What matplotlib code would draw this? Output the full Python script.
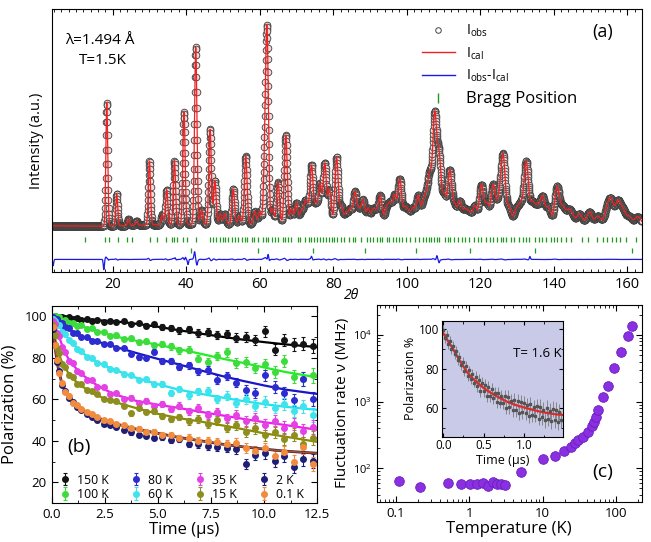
import numpy as np
import matplotlib
matplotlib.use("Agg")
import matplotlib.pyplot as plt
from matplotlib.lines import Line2D
from matplotlib.ticker import MultipleLocator, LogLocator, NullFormatter

plt.rcParams["font.family"] = ["Open Sans", "DejaVu Sans"]
plt.rcParams["mathtext.default"] = "regular"

# ---------------- panel (a): neutron diffraction ----------------
PEAK_POS = [18.4, 21.1, 24.3, 26.5, 30.0, 33.5, 34.7, 36.8, 39.4, 42.6, 44.2, 46.5,
            47.8, 49.3, 50.5, 52.8, 54.5, 56.2, 58.7, 60.0, 61.4, 62.0, 63.5, 65.0,
            67.1, 68.7, 70.0, 71.3, 72.3, 73.0, 74.1, 75.3, 76.4, 77.7, 79.0, 80.9,
            82.2, 83.5, 84.6, 85.9, 87.0, 88.1, 89.5, 90.8, 91.7, 92.8, 94.5, 95.5,
            96.7, 98.1, 99.5, 100.5, 101.7, 103.1, 104.5, 105.4, 106.3, 107.6, 108.8,
            110.2, 111.7, 113.0, 114.4, 115.8, 117.0, 118.5, 120.3, 121.8, 123.5, 125.0,
            126.2, 127.8, 129.8, 131.0, 132.5, 134.2, 135.5, 136.9, 138.5, 140.9, 142.5,
            144.0, 145.0, 147.0, 149.7, 152.0, 154.5, 155.6, 157.4, 158.8, 160.5, 162.8]
PEAK_HT = [60.0, 15.5, 3.0, 2.0, 31.0, 5.0, 17.0, 31.0, 54.5, 86.0, 7.0, 46.0,
           21.0, 5.0, 5.0, 17.0, 4.0, 33.0, 6.0, 6.0, 26.0, 88.0, 7.0, 20.0,
           43.0, 7.0, 10.0, 6.0, 9.0, 7.0, 28.0, 9.0, 19.0, 29.0, 16.0, 32.0,
           8.0, 5.0, 7.0, 15.0, 6.0, 11.0, 7.0, 6.0, 5.0, 13.0, 7.0, 9.0,
           13.0, 21.0, 7.0, 5.0, 7.0, 13.0, 9.0, 10.0, 21.0, 51.0, 31.0,
           13.0, 25.0, 8.0, 10.0, 6.0, 5.0, 8.0, 18.0, 9.0, 18.0, 10.0,
           32.0, 7.0, 6.0, 8.0, 29.0, 9.0, 7.0, 12.0, 7.0, 17.0, 7.0,
           5.0, 3.0, 4.0, 5.0, 3.0, 6.0, 10.0, 10.0, 6.0, 3.0, 3.0]
BG_POS = [3.5, 17.0, 30.0, 60.0, 100.0, 140.0, 164.0]
BG_VAL = [1.0, 0.8, 1.5, 2.0, 2.5, 3.0, 2.5]

DIFF_POS = [3.8, 17.6, 18.6, 37.0, 39.8, 40.5, 42.3, 42.9, 62.3, 74.1, 108.2, 108.8, 133.5]
DIFF_AMP = [-3.0, -5.0, 1.5, 1.2, 1.8, -2.5, 2.5, -1.5, 3.5, 1.5, 2.0, -1.5, 1.5]

BRAGG_MAIN = [12.5, 17.9, 19.0, 21.4, 24.0, 25.2, 30.2, 32.0, 34.5, 36.1, 36.8, 37.4,
              39.0, 40.1, 42.7, 46.5, 47.4, 48.1, 49.2, 49.9, 50.6, 51.5, 52.4, 53.3,
              54.0, 55.2, 56.0, 56.6, 57.8, 58.5, 59.6, 60.9, 61.6, 62.2, 63.4, 64.1,
              65.0, 66.2, 67.0, 67.8, 68.6, 70.3, 71.0, 72.2, 73.3, 74.0, 74.8, 75.5,
              76.4, 77.2, 77.9, 78.8, 79.6, 80.3, 81.0, 82.1, 83.0, 84.3, 85.4, 86.0,
              87.5, 89.2, 90.0, 90.8, 91.9, 92.7, 93.4, 94.5, 95.3, 96.2, 97.0, 97.8,
              98.6, 99.9, 101.0, 102.2, 103.4, 104.3, 105.2, 106.0, 106.6, 107.4, 108.1,
              108.8, 110.3, 111.1, 111.8, 112.8, 113.9, 115.0, 115.9, 117.0, 118.2, 119.4,
              120.3, 121.5, 122.6, 123.4, 124.5, 125.6, 126.3, 127.1, 128.4, 129.2, 130.5,
              131.7, 132.4, 133.3, 134.9, 136.0, 136.8, 138.0, 139.3, 140.1, 140.9, 142.0,
              143.3, 144.6, 147.7, 149.3, 151.7, 153.4, 154.4, 155.8, 156.9, 158.0, 159.6,
              162.4]
BRAGG_SECOND = [41.2, 59.4, 74.5, 88.6, 102.6, 117.3, 134.8, 161.2]

# ---------------- panel (b): muSR asymmetry ----------------
TEMPS = ["150 K", "100 K", "80 K", "60 K", "35 K", "15 K", "2 K", "0.1 K"]
PT_COLORS = ["#141414", "#3ddc3d", "#2c2cd0", "#3fe3ec", "#e442e4", "#8e8e20", "#1f1f78", "#f28b3e"]
LN_COLORS = ["#000000", "#22ee22", "#1717c8", "#1ee4f0", "#ee1eee", "#8b8b00", "#4a2038", "#e07a30"]

T_PTS = [0.05, 0.15, 0.25, 0.35, 0.5, 0.65, 0.8, 1.0, 1.2, 1.4, 1.65, 1.9, 2.15, 2.45,
         2.75, 3.05, 3.4, 3.75, 4.1, 4.45, 4.8, 5.2, 5.6, 6.0, 6.45, 6.9, 7.35, 7.8,
         8.25, 8.7, 9.15, 9.6, 10.05, 10.5, 10.95, 11.4, 11.85, 12.3]
ERR_PTS = [0.6, 0.6, 0.6, 0.6, 0.6, 0.6, 0.7, 0.7, 0.7, 0.7, 0.8, 0.8, 0.8, 0.9,
           0.9, 1.0, 1.0, 1.1, 1.1, 1.2, 1.3, 1.4, 1.5, 1.6, 1.7, 1.8, 1.9, 2.0,
           2.1, 2.2, 2.4, 2.5, 2.6, 2.8, 2.9, 3.0, 3.2, 3.4]
P_150 = [99.6, 100.3, 99.8, 99.5, 99.9, 99.2, 99.6, 98.8, 99.1, 98.4, 98.9, 98.0, 98.4, 97.5,
         97.9, 97.2, 97.6, 96.4, 96.8, 95.6, 96.1, 95.0, 94.4, 93.2, 93.9, 92.0, 92.6, 90.9,
         91.5, 89.8, 90.2, 88.6, 92.8, 84.0, 88.5, 86.5, 86.8, 85.8]
P_100 = [99.5, 100.1, 99.0, 99.6, 98.0, 98.4, 96.8, 96.9, 95.4, 95.9, 94.0, 94.3, 92.5, 92.6,
         90.7, 90.8, 89.0, 89.4, 87.5, 88.1, 86.0, 86.6, 85.5, 83.6, 84.0, 79.6, 78.2, 81.0,
         82.6, 77.5, 78.0, 75.2, 76.8, 73.2, 78.5, 71.0, 69.8, 71.5]
P_80 = [99.8, 98.5, 98.6, 97.0, 96.6, 94.8, 94.3, 92.2, 91.8, 90.1, 89.9, 88.2, 88.3, 86.5,
        86.6, 84.6, 84.8, 82.0, 80.2, 80.0, 83.0, 78.4, 78.6, 75.8, 76.4, 73.5, 74.0, 69.5,
        71.2, 68.0, 64.5, 62.9, 71.5, 66.0, 63.0, 59.7, 69.8, 60.0]
P_60 = [98.8, 97.9, 96.0, 95.7, 92.4, 91.5, 88.6, 87.3, 84.2, 83.3, 80.4, 79.9, 77.4, 76.9,
        74.6, 74.2, 72.0, 71.8, 69.4, 69.6, 67.2, 67.4, 63.0, 64.9, 61.9, 63.8, 64.2, 60.3,
        61.8, 58.4, 60.3, 57.0, 58.9, 56.0, 57.8, 54.3, 56.6, 52.6]
P_35 = [98.0, 96.2, 92.0, 90.6, 85.2, 82.9, 78.6, 77.4, 73.6, 72.9, 69.5, 69.1, 66.0, 65.8,
        62.6, 63.0, 60.2, 60.8, 58.2, 59.3, 57.0, 57.9, 55.5, 56.9, 54.2, 55.8, 52.6, 54.0,
        51.0, 52.5, 49.5, 51.0, 47.8, 49.7, 46.4, 48.2, 44.8, 46.8]
P_15 = [95.8, 90.8, 84.6, 82.2, 77.2, 75.6, 71.8, 70.6, 67.5, 67.2, 64.3, 63.8, 62.8, 60.1,
        59.9, 59.3, 56.8, 53.2, 55.9, 53.9, 54.2, 52.0, 50.4, 51.5, 49.3, 50.6, 47.9, 49.8,
        46.3, 47.5, 44.2, 46.0, 42.7, 44.0, 41.0, 43.0, 38.5, 41.2]
P_2 = [94.0, 86.4, 78.0, 73.8, 66.8, 64.2, 60.6, 58.9, 56.2, 55.0, 52.9, 51.3, 50.0, 48.2,
       47.4, 46.6, 45.1, 44.0, 42.8, 42.5, 41.5, 41.9, 40.2, 40.8, 38.6, 38.5, 37.4, 37.2,
       36.5, 35.8, 28.8, 33.2, 34.0, 30.2, 32.8, 27.5, 31.0, 30.2]
P_01 = [95.0, 86.0, 79.2, 72.6, 68.0, 63.5, 61.8, 58.4, 57.3, 55.2, 53.7, 52.8, 51.3, 50.1,
        49.5, 48.0, 47.5, 46.0, 45.8, 44.4, 44.3, 43.0, 42.6, 41.3, 41.4, 40.0, 40.0, 39.5,
        38.4, 38.9, 36.5, 35.0, 36.4, 32.5, 34.6, 30.0, 37.0, 28.6]
P_ALL = [P_150, P_100, P_80, P_60, P_35, P_15, P_2, P_01]

T_FIT = [0, 0.1, 0.2, 0.3, 0.45, 0.6, 0.8, 1.0, 1.25, 1.5, 2, 2.5, 3, 4, 5, 6, 7, 8, 9, 10, 11, 12.5]
F_150 = [100, 100, 99.9, 99.8, 99.7, 99.6, 99.4, 99.2, 99.0, 98.7, 98.3, 97.9, 97.6, 96.4,
         95.0, 93.3, 91.7, 90.2, 88.8, 87.6, 86.5, 85.2]
F_100 = [100, 99.8, 99.5, 99.2, 98.5, 97.9, 97.1, 96.4, 95.6, 94.9, 93.4, 91.9, 90.3, 88.2,
         86.3, 84.2, 82.0, 79.7, 77.6, 75.4, 73.2, 70.6]
F_80 = [100, 99.2, 98.5, 97.8, 96.6, 95.5, 94.0, 92.7, 91.2, 90.1, 88.3, 86.8, 85.3, 82.3,
        79.5, 76.8, 74.0, 71.3, 68.9, 66.7, 64.7, 62.6]
F_60 = [100, 98.6, 97.3, 96.1, 93.8, 91.7, 89.2, 86.9, 84.3, 82.0, 78.8, 76.2, 74.1, 70.3,
        67.3, 64.6, 62.7, 60.9, 59.2, 57.7, 56.4, 54.9]
F_35 = [100, 97.0, 94.2, 91.3, 87.3, 83.0, 79.4, 76.6, 73.8, 71.4, 67.7, 64.7, 62.3, 59.2,
        57.4, 55.8, 54.0, 52.3, 50.6, 49.0, 47.6, 45.3]
F_15 = [100, 93.0, 87.5, 83.0, 78.8, 75.8, 72.4, 70.0, 67.6, 65.8, 62.6, 60.3, 58.6, 55.7,
        53.0, 50.9, 49.3, 47.5, 45.6, 43.6, 42.0, 39.5]
F_2 = [100, 89.5, 82.0, 75.5, 68.8, 64.8, 61.3, 58.8, 56.6, 54.7, 51.8, 49.8, 48.2, 45.6,
       43.6, 41.6, 40.0, 38.4, 37.1, 36.0, 35.0, 34.0]
F_01 = F_2
F_ALL = [F_150, F_100, F_80, F_60, F_35, F_15, F_2, F_01]

# ---------------- panel (c): fluctuation rate ----------------
T_NU = [0.11, 0.21, 0.52, 0.76, 1.02, 1.26, 1.55, 1.81, 2.08, 2.36, 2.67, 3.06, 5.0, 10.0,
        14.6, 19.5, 24.1, 27.6, 30.6, 35.2, 41.9, 46.6, 50.6, 52.9, 57.3, 65.8, 77.0,
        94.8, 117.0, 144.0, 164.0]
NU = [65, 53, 61, 57.5, 57.5, 59, 61, 55, 63, 59, 57.5, 56, 89, 137,
      155, 184, 211, 243, 267, 293, 355, 432, 502, 583, 750, 1164, 1718,
      3160, 5620, 9760, 13650]

# inset: 1.6 K asymmetry
T_IN = [0.00, 0.02, 0.04, 0.06, 0.08, 0.10, 0.12, 0.14, 0.16, 0.18,
        0.20, 0.22, 0.24, 0.26, 0.28, 0.30, 0.32, 0.34, 0.36, 0.38,
        0.40, 0.42, 0.44, 0.46, 0.48, 0.50, 0.52, 0.54, 0.56, 0.58,
        0.60, 0.62, 0.64, 0.66, 0.68, 0.70, 0.72, 0.74, 0.76, 0.78,
        0.80, 0.82, 0.84, 0.86, 0.88, 0.90, 0.92, 0.94, 0.96, 0.98,
        1.00, 1.02, 1.04, 1.06, 1.08, 1.10, 1.12, 1.14, 1.16, 1.18,
        1.20, 1.22, 1.24, 1.26, 1.28, 1.30, 1.32, 1.34, 1.36, 1.38,
        1.40, 1.42, 1.44, 1.46]
P_IN = [99.5, 95.8, 97.0, 92.6, 94.1, 90.2, 91.8, 87.5, 88.9, 84.6,
        86.0, 81.8, 83.5, 79.0, 81.4, 76.3, 79.2, 74.8, 77.3, 73.1,
        75.9, 71.5, 74.2, 69.0, 73.1, 68.6, 71.9, 66.5, 70.8, 66.4,
        69.8, 65.2, 68.0, 63.1, 67.9, 63.0, 66.2, 62.6, 66.1, 60.4,
        65.6, 60.8, 63.9, 59.1, 64.5, 59.2, 63.9, 57.8, 63.4, 58.3,
        62.9, 57.7, 61.6, 56.1, 62.3, 56.8, 60.8, 56.4, 61.2, 54.9,
        60.8, 55.6, 59.4, 54.2, 60.1, 54.9, 58.8, 53.5, 59.6, 54.3,
        59.3, 53.2, 58.0, 54.0]
E_IN = [2.5] * 20 + [3.0] * 20 + [3.5] * 20 + [4.0] * 14
T_IN_FIT = [0, 0.05, 0.1, 0.15, 0.2, 0.25, 0.3, 0.35, 0.4, 0.5, 0.6, 0.7, 0.8, 0.9,
            1.0, 1.1, 1.2, 1.3, 1.4, 1.5]
F_IN = [98, 94.5, 91.5, 88, 84.3, 81.2, 78, 75.8, 73.8, 70.3, 67.6, 65.3, 63.2, 61.7,
        60.5, 59.4, 58.4, 57.6, 57.0, 56.6]

fig = plt.figure(figsize=(6.51, 5.42), dpi=100)

# ---------- (a) ----------
ax = fig.add_axes([0.0799, 0.4982, 0.9063, 0.4852])
tt = np.arange(3.5, 164.0, 0.05)
prof = np.interp(tt, BG_POS, BG_VAL)
for p, h in zip(PEAK_POS, PEAK_HT):
    s = 0.2 + 0.003 * p
    prof = prof + h * np.exp(-0.5 * ((tt - p) / s) ** 2)
diff = -15.3 + 0.008 * np.gradient(prof, tt)
for p, a in zip(DIFF_POS, DIFF_AMP):
    diff = diff + a * np.exp(-0.5 * ((tt - p) / 0.15) ** 2)

ax.plot(tt, prof, ls="none", marker="o", ms=4.8, mfc="#f6d8d8", mec="#3a3a3a", mew=0.6)
ax.plot(tt, prof, color="#ee2222", lw=0.9)
ax.plot(tt, diff, color="#1a1ae6", lw=0.9)
ax.vlines(BRAGG_MAIN, -6.7, -4.2, color="#1f9a1f", lw=0.9)
ax.vlines(BRAGG_SECOND, -12.3, -9.9, color="#1f9a1f", lw=0.9)
ax.set_xlim(3.5, 164)
ax.set_ylim(-21.4, 106.3)
ax.set_yticks([])
ax.xaxis.set_major_locator(MultipleLocator(20))
ax.xaxis.set_minor_locator(MultipleLocator(2))
ax.tick_params(axis="x", which="both", direction="in", top=True, labelsize=10.5)
ax.tick_params(axis="x", which="major", length=4)
ax.tick_params(axis="x", which="minor", length=2.5)
ax.set_ylabel("Intensity (a.u.)", fontsize=10.5, labelpad=6)
ax.text(0.508, -0.088, "2θ", transform=ax.transAxes, fontsize=10, style="italic",
        ha="center", va="center")
ax.text(0.022, 0.882, "λ=1.494 Å", transform=ax.transAxes, fontsize=11, va="center")
ax.text(0.045, 0.806, "T=1.5K", transform=ax.transAxes, fontsize=11, va="center")
ax.text(0.934, 0.913, "(a)", transform=ax.transAxes, fontsize=13, ha="center", va="center")
handles = [Line2D([], [], ls="none", marker="o", ms=4, mfc="none", mec="#444444", mew=0.7),
           Line2D([], [], color="#ee2222", lw=1),
           Line2D([], [], color="#1a1ae6", lw=1),
           Line2D([], [], ls="none", marker="|", ms=7, mew=1.0, color="#1f9a1f")]
leg = ax.legend(handles, ["I$_{obs}$", "I$_{cal}$", "I$_{obs}$-I$_{cal}$", "Bragg Position"],
                loc="upper left", bbox_to_anchor=(0.61, 0.985), frameon=False, fontsize=10,
                handlelength=2.4, labelspacing=0.45, borderpad=0.2)
leg.get_texts()[3].set_fontsize(12)

# ---------- (b) ----------
bx = fig.add_axes([0.0794, 0.0720, 0.4076, 0.3634])
for P, cp, lab in zip(P_ALL, PT_COLORS, TEMPS):
    bx.errorbar(T_PTS, P, yerr=ERR_PTS, ls="none", marker="o", ms=4, color=cp,
                elinewidth=0.8, capsize=1.5, capthick=0.8, label=lab)
for F, cl, lw, al in zip(F_ALL, LN_COLORS, [1.6] * 6 + [2.0, 1.0], [1] * 7 + [0.6]):
    bx.plot(T_FIT, F, color=cl, lw=lw, alpha=al)
bx.set_xlim(0, 12.5)
bx.set_ylim(10, 105)
bx.xaxis.set_major_locator(MultipleLocator(2.5))
bx.xaxis.set_minor_locator(MultipleLocator(1.25))
bx.yaxis.set_major_locator(MultipleLocator(20))
bx.yaxis.set_minor_locator(MultipleLocator(10))
bx.xaxis.set_major_formatter(matplotlib.ticker.FormatStrFormatter("%.1f"))
bx.tick_params(which="both", direction="in", top=True, right=True, labelsize=9.5)
bx.tick_params(which="major", length=4)
bx.tick_params(which="minor", length=2.5)
bx.set_xlabel("Time (μs)", fontsize=12, labelpad=1)
bx.set_ylabel("Polarization (%)", fontsize=12, labelpad=5)
bx.text(0.06, 0.284, "(b)", transform=bx.transAxes, fontsize=14, va="center")
bx.legend(loc="lower center", bbox_to_anchor=(0.49, -0.045), ncol=4, frameon=False,
          fontsize=8.8, handlelength=1.0, handletextpad=0.5, columnspacing=1.7,
          labelspacing=0.1)

# ---------- (c) ----------
cx = fig.add_axes([0.5786, 0.0744, 0.4071, 0.3629])
cx.scatter(T_NU, NU, s=48, c="#8a30e0", edgecolors="#6a1cc0", linewidths=0.6, zorder=3)
cx.set_xscale("log")
cx.set_yscale("log")
cx.set_xlim(0.0546, 224)
cx.set_ylim(31.6, 2.82e4)
cx.xaxis.set_major_formatter(matplotlib.ticker.FuncFormatter(lambda v, _: f"{v:g}"))
cx.yaxis.set_major_locator(LogLocator(base=10, numticks=10))
cx.yaxis.set_minor_locator(LogLocator(base=10, subs=np.arange(2, 10), numticks=10))
cx.yaxis.set_minor_formatter(NullFormatter())
cx.tick_params(which="both", direction="in", top=True, right=True)
cx.tick_params(axis="x", labelsize=9.5)
cx.tick_params(axis="y", labelsize=8)
cx.tick_params(which="major", length=4)
cx.tick_params(which="minor", length=2.2)
cx.set_xlabel("Temperature (K)", fontsize=12, labelpad=1)
cx.set_ylabel("Fluctuation rate ν (MHz)", fontsize=11, labelpad=2)
cx.text(0.854, 0.151, "(c)", transform=cx.transAxes, fontsize=14, ha="center", va="center")

ix = fig.add_axes([0.6785, 0.1943, 0.1859, 0.2140])
ix.set_facecolor("#c8cae8")
ix.errorbar(T_IN, P_IN, yerr=E_IN, ls="none", marker="s", ms=1.5, color="#555555",
            ecolor="#7a7a7a", elinewidth=0.6)
ix.plot(T_IN_FIT, F_IN, color="#dd2a2a", lw=1.6)
ix.set_xlim(-0.02, 1.48)
ix.set_ylim(45.7, 104.4)
ix.xaxis.set_major_locator(MultipleLocator(0.5))
ix.xaxis.set_minor_locator(MultipleLocator(0.25))
ix.yaxis.set_major_locator(MultipleLocator(20))
ix.yaxis.set_minor_locator(MultipleLocator(10))
ix.xaxis.set_major_formatter(matplotlib.ticker.FormatStrFormatter("%.1f"))
ix.tick_params(which="both", direction="in", top=True, right=True, labelsize=8.5, pad=2)
ix.tick_params(which="major", length=3)
ix.tick_params(which="minor", length=1.8)
ix.set_xlabel("Time (μs)", fontsize=9, labelpad=1)
ix.set_ylabel("Polarization %", fontsize=9, labelpad=1)
ix.text(0.79, 0.72, "T= 1.6 K", transform=ix.transAxes, fontsize=9.5, ha="center", va="center")

fig.savefig("out.png", dpi=100)
